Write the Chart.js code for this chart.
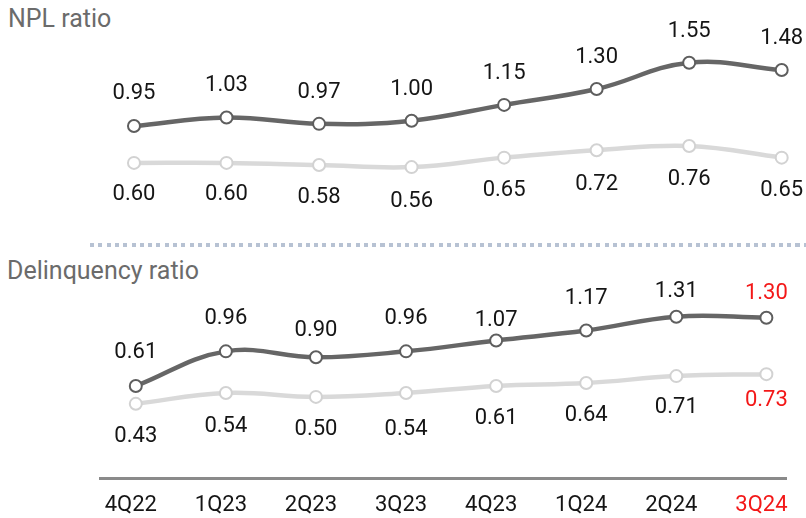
<!DOCTYPE html>
<html>
<head>
<meta charset="utf-8">
<script src="https://cdn.jsdelivr.net/npm/chart.js@4/dist/chart.umd.min.js"></script>
<style>
  html, body { margin: 0; padding: 0; background: #fff; }
  #wrap { position: relative; width: 806px; height: 518px; overflow: hidden; background: #fff; }
  .title { position: absolute; font-family: Roboto, "Noto Sans", sans-serif; font-size: 25px; line-height: 24px; color: #6b6b6b; white-space: nowrap; }
  .sep { position: absolute; left: 90px; top: 243px; width: 716px; height: 4px;
         background: repeating-linear-gradient(90deg, #b7c2d3 0 4px, transparent 4px 8.3px); }
  .panel { position: absolute; left: 0; width: 806px; }
</style>
</head>
<body>
<div id="wrap">
  <div class="title" style="left:8px;top:7px;">NPL ratio</div>
  <div class="sep"></div>
  <div class="title" style="left:7px;top:259px;">Delinquency ratio</div>
  <div class="panel" style="top:0;height:240px;"><canvas id="nplChart"></canvas></div>
  <div class="panel" style="top:250px;height:282px;"><canvas id="delinqChart"></canvas></div>
</div>
<script>
// Quarters on the shared x axis
const quarters = ['4Q22', '1Q23', '2Q23', '3Q23', '4Q23', '1Q24', '2Q24', '3Q24'];

// NPL ratio (%)
const nplUpper = [0.95, 1.03, 0.97, 1.00, 1.15, 1.30, 1.55, 1.48];
const nplLower = [0.60, 0.60, 0.58, 0.56, 0.65, 0.72, 0.76, 0.65];

// Delinquency ratio (%)
const delinqUpper = [0.61, 0.96, 0.90, 0.96, 1.07, 1.17, 1.31, 1.30];
const delinqLower = [0.43, 0.54, 0.50, 0.54, 0.61, 0.64, 0.71, 0.73];

// Distance (px) between each point and its value label
const nplUpperGap = [32, 32, 31, 31, 31, 32, 31, 32];
const nplLowerGap = [32, 32, 32, 34, 33, 34, 33, 33];
const delinqUpperGap = [34, 33, 27, 33, 20, 32, 25, 24];
const delinqLowerGap = [33, 34, 33, 37, 32, 32, 31, 26];

const FONT = 'Roboto, "Noto Sans", sans-serif';
const DARK = '#666666';
const LIGHT = '#d9d9d9';
const INK = '#151515';
const RED = '#f31818';

// Writes each point's value above or below it
const valueLabels = {
  id: 'valueLabels',
  afterDatasetsDraw(chart) {
    const ctx = chart.ctx;
    ctx.save();
    ctx.font = '22px ' + FONT;
    ctx.textAlign = 'center';
    ctx.textBaseline = 'middle';
    chart.data.datasets.forEach((ds, di) => {
      const meta = chart.getDatasetMeta(di);
      meta.data.forEach((pt, i) => {
        const dir = ds.labelAbove ? -1 : 1;
        const y = pt.y + dir * ds.labelGap[i];
        ctx.fillStyle = (ds.highlightLast && i === meta.data.length - 1) ? RED : INK;
        ctx.fillText(ds.data[i].y.toFixed(2), pt.x, y);
      });
    });
    ctx.restore();
  }
};

function series(values, color, pointBorder, above, gap, highlightLast) {
  return {
    data: values.map((v, i) => ({ x: i, y: v })),
    borderColor: color,
    borderWidth: 4.5,
    tension: 0.4,
    pointRadius: 6,
    pointBorderWidth: 2,
    pointBackgroundColor: '#ffffff',
    pointBorderColor: pointBorder,
    clip: false,
    labelAbove: above,
    labelGap: gap,
    highlightLast: highlightLast
  };
}

const common = {
  responsive: true,
  maintainAspectRatio: false,
  animation: false,
  events: [],
  plugins: { legend: { display: false }, tooltip: { enabled: false } }
};

new Chart(document.getElementById('nplChart'), {
  type: 'line',
  data: {
    datasets: [
      series(nplUpper, DARK, '#5e5e5e', true, nplUpperGap, false),
      series(nplLower, LIGHT, '#d2d2d2', false, nplLowerGap, false)
    ]
  },
  options: Object.assign({}, common, {
    layout: { autoPadding: false, padding: { left: 100, right: 0, top: 0, bottom: 0 } },
    scales: {
      x: { type: 'linear', display: false, min: -0.3674, max: 7.2626 },
      y: { display: false, min: -0.1308, max: 2.1441 }
    }
  }),
  plugins: [valueLabels]
});

new Chart(document.getElementById('delinqChart'), {
  type: 'line',
  data: {
    datasets: [
      series(delinqUpper, DARK, '#5e5e5e', true, delinqUpperGap, true),
      series(delinqLower, LIGHT, '#d2d2d2', false, delinqLowerGap, true)
    ]
  },
  options: Object.assign({}, common, {
    layout: { autoPadding: false, padding: { left: 100, right: 0, top: 0, bottom: 0 } },
    scales: {
      x: {
        type: 'linear',
        min: -0.3974,
        max: 7.227,
        afterBuildTicks: (scale) => { scale.ticks = quarters.map((q, i) => ({ value: i })); },
        grid: { display: false, drawTicks: false },
        border: { display: true, color: '#8a8a8a', width: 3 },
        ticks: {
          autoSkip: false,
          maxRotation: 0,
          padding: 13.5,
          labelOffset: -5,
          font: { family: FONT, size: 22 },
          color: (c) => (c.index === quarters.length - 1 ? RED : INK),
          callback: (v) => quarters[v]
        }
      },
      y: { display: false, min: -0.3253, max: 1.9838 }
    }
  }),
  plugins: [valueLabels]
});
</script>
</body>
</html>
